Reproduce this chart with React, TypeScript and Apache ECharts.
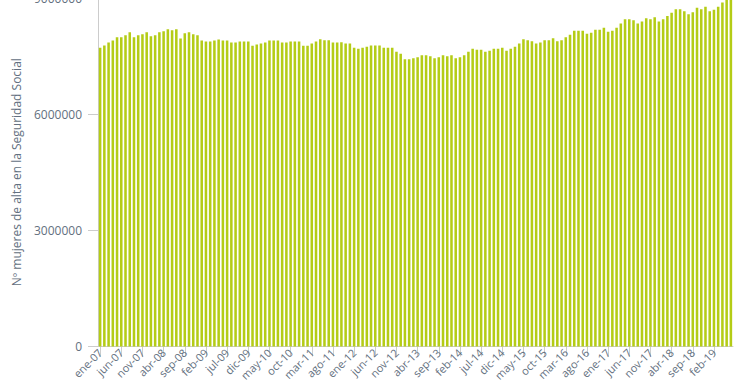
import React, { useEffect, useRef } from "react";
import * as echarts from "echarts";

const monthNames = ["ene", "feb", "mar", "abr", "may", "jun", "jul", "ago", "sep", "oct", "nov", "dic"];
const years = ["07", "08", "09", "10", "11", "12", "13", "14", "15", "16", "17", "18", "19"];
const lastMonthCount = 6; // 2019: ene-jun

const categories: string[] = [];
years.forEach((y, yi) => {
  const n = yi === years.length - 1 ? lastMonthCount : 12;
  for (let m = 0; m < n; m++) categories.push(`${monthNames[m]}-${y}`);
});

const values2007 = [7713000, 7774000, 7851000, 7903000, 7989000, 7989000, 8041000, 8118000, 7989000, 8041000, 8067000, 8118000];
const values2008 = [8015000, 8041000, 8118000, 8144000, 8196000, 8170000, 8196000, 7954000, 8092000, 8118000, 8067000, 8041000];
const values2009 = [7903000, 7877000, 7877000, 7903000, 7928000, 7903000, 7903000, 7851000, 7851000, 7877000, 7877000, 7877000];
const values2010 = [7765000, 7799000, 7825000, 7851000, 7903000, 7903000, 7903000, 7851000, 7851000, 7877000, 7877000, 7877000];
const values2011 = [7765000, 7770000, 7825000, 7877000, 7937000, 7911000, 7911000, 7851000, 7851000, 7860000, 7825000, 7825000];
const values2012 = [7713000, 7687000, 7713000, 7739000, 7774000, 7774000, 7774000, 7713000, 7713000, 7713000, 7610000, 7558000];
const values2013 = [7420000, 7420000, 7446000, 7472000, 7524000, 7524000, 7498000, 7446000, 7472000, 7524000, 7498000, 7524000];
const values2014 = [7446000, 7472000, 7524000, 7610000, 7687000, 7662000, 7662000, 7610000, 7636000, 7687000, 7687000, 7713000];
const values2015 = [7636000, 7687000, 7739000, 7825000, 7937000, 7911000, 7886000, 7825000, 7851000, 7911000, 7911000, 7963000];
const values2016 = [7886000, 7911000, 7989000, 8049000, 8152000, 8152000, 8152000, 8075000, 8101000, 8178000, 8178000, 8230000];
const values2017 = [8126000, 8152000, 8230000, 8342000, 8454000, 8454000, 8428000, 8342000, 8394000, 8480000, 8454000, 8506000];
const values2018 = [8394000, 8454000, 8532000, 8618000, 8712000, 8712000, 8661000, 8583000, 8635000, 8747000, 8712000, 8773000];
const values2019 = [8661000, 8695000, 8773000, 8885000, 8970000, 8990000];

const seriesValues = [
  ...values2007, ...values2008, ...values2009, ...values2010, ...values2011, ...values2012, ...values2013,
  ...values2014, ...values2015, ...values2016, ...values2017, ...values2018, ...values2019,
];

const yAxisTitle = "Nº mujeres de alta en la Seguridad Social";
const textColor = "#637080";
const axisColor = "#cccccc";
const barColor = "#b4cc16";

export default function App() {
  const ref = useRef<HTMLDivElement>(null);
  useEffect(() => {
    if (!ref.current) return;
    const chart = echarts.init(ref.current, undefined, { renderer: "svg" });
    chart.setOption({
      animation: false,
      grid: { left: 98, right: 7, top: -2, bottom: 42.5, containLabel: false, outerBoundsMode: "none" },
      xAxis: {
        type: "category",
        data: categories,
        boundaryGap: true,
        axisLine: { show: true, lineStyle: { color: axisColor, width: 1 } },
        axisTick: { show: true, alignWithLabel: true, interval: 4, length: 10, lineStyle: { color: axisColor } },
        axisLabel: {
          interval: 4,
          rotate: 45,
          margin: 4,
          color: textColor,
          fontSize: 11,
          fontFamily: "Open Sans",
        },
      },
      yAxis: {
        type: "value",
        min: 0,
        max: 9000000,
        interval: 3000000,
        name: yAxisTitle,
        nameLocation: "middle",
        nameRotate: 90,
        nameGap: 76,
        nameTextStyle: { color: textColor, fontSize: 12, fontFamily: "Open Sans" },
        splitLine: { show: false },
        axisLine: { show: true, lineStyle: { color: axisColor, width: 1 } },
        axisTick: { show: true, length: 10, lineStyle: { color: axisColor } },
        axisLabel: {
          color: textColor,
          fontSize: 12,
          fontFamily: "Open Sans",
          margin: 16,
          formatter: (v: number) => String(v),
        },
      },
      series: [
        {
          type: "bar",
          data: seriesValues,
          barWidth: "60%",
          itemStyle: { color: barColor },
          clip: true,
        },
      ],
    });
    return () => chart.dispose();
  }, []);
  return (
    <div
      ref={ref}
      style={{ position: "fixed", left: 0, top: 0, width: 740, height: 389, background: "#fff" }}
    />
  );
}
